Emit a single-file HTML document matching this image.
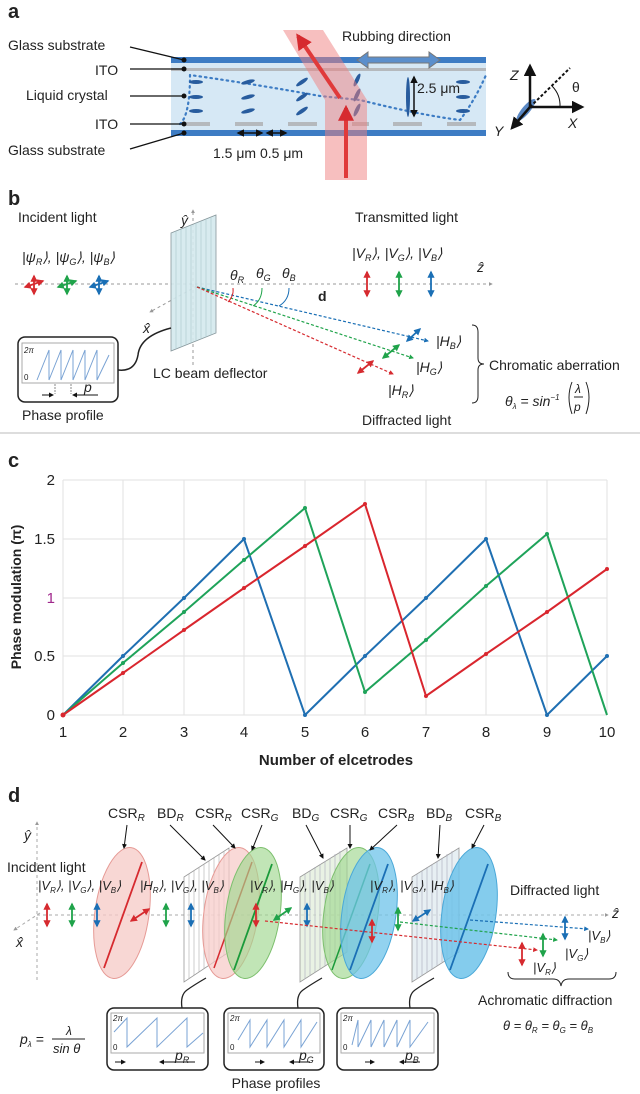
<!DOCTYPE html>
<html><head><meta charset="utf-8"><style>
html,body{margin:0;padding:0;background:#fff}
svg{display:block}
text{font-family:"Liberation Sans",sans-serif;fill:#222}
.l{font-size:14px}
.b{font-weight:bold}
.i{font-style:italic}
</style></head><body>
<svg width="640" height="1094" viewBox="0 0 640 1094" xmlns="http://www.w3.org/2000/svg">
<defs>
<marker id="ak" viewBox="0 0 10 10" refX="8" refY="5" markerWidth="5" markerHeight="5" orient="auto-start-reverse"><path d="M0,0L10,5L0,10z" fill="#111"/></marker>
<marker id="ar" viewBox="0 0 10 10" refX="8" refY="5" markerWidth="4" markerHeight="4" orient="auto-start-reverse"><path d="M0,0L10,5L0,10z" fill="#d62a2f"/></marker>
<marker id="ag" viewBox="0 0 10 10" refX="8" refY="5" markerWidth="4" markerHeight="4" orient="auto-start-reverse"><path d="M0,0L10,5L0,10z" fill="#1fa34a"/></marker>
<marker id="ab" viewBox="0 0 10 10" refX="8" refY="5" markerWidth="4" markerHeight="4" orient="auto-start-reverse"><path d="M0,0L10,5L0,10z" fill="#1a6fb5"/></marker>
<marker id="ay" viewBox="0 0 10 10" refX="8" refY="5" markerWidth="4" markerHeight="4" orient="auto"><path d="M0,0L10,5L0,10z" fill="#999"/></marker>
</defs>

<!-- Panel a -->
<text x="8" y="18" class="b" font-size="20">a</text>
<rect x="171" y="60" width="315" height="73" fill="#d6e8f5"/>
<rect x="171" y="57" width="315" height="6" fill="#3d7cc4"/>
<rect x="171" y="68" width="315" height="3" fill="#b5b9bd"/>
<rect x="171" y="130" width="315" height="6" fill="#3d7cc4"/>
<g fill="#b5b9bd"><rect x="184" y="122" width="26" height="4"/><rect x="235" y="122" width="28" height="4"/><rect x="288" y="122" width="29" height="4"/><rect x="352" y="122" width="17" height="4"/><rect x="393" y="122" width="29" height="4"/><rect x="447" y="122" width="29" height="4"/></g>
<path d="M180,124 Q190,115 190,75 Q260,85 320,96 L360,100 Q420,115 460,120 Q475,100 486,75" fill="none" stroke="#3d7cc4" stroke-width="2.2" stroke-dasharray="1.5,4" stroke-linecap="round"/>
<g fill="#285c9e">
<ellipse cx="196" cy="82" rx="7" ry="2"/><ellipse cx="196" cy="97" rx="7" ry="2"/><ellipse cx="196" cy="111" rx="7" ry="2"/>
<ellipse cx="248" cy="82" rx="7" ry="2" transform="rotate(-15 248 82)"/><ellipse cx="248" cy="97" rx="7" ry="2" transform="rotate(-15 248 97)"/><ellipse cx="248" cy="111" rx="7" ry="2" transform="rotate(-15 248 111)"/>
<ellipse cx="302" cy="82" rx="7" ry="2" transform="rotate(-35 302 82)"/><ellipse cx="302" cy="97" rx="7" ry="2" transform="rotate(-35 302 97)"/><ellipse cx="302" cy="111" rx="7" ry="2" transform="rotate(-35 302 111)"/>
<ellipse cx="357" cy="80" rx="7" ry="2" transform="rotate(-65 357 80)"/><ellipse cx="357" cy="95" rx="7" ry="2" transform="rotate(-65 357 95)"/><ellipse cx="357" cy="110" rx="7" ry="2" transform="rotate(-65 357 110)"/>
<ellipse cx="408" cy="97" rx="2" ry="20"/>
<ellipse cx="463" cy="82" rx="7" ry="2"/><ellipse cx="463" cy="97" rx="7" ry="2"/><ellipse cx="463" cy="111" rx="7" ry="2"/>
</g>
<polygon points="283,30 323,30 367,100 367,180 325,180 325,100" fill="#f08080" opacity="0.5"/>
<line x1="346" y1="178" x2="346" y2="108" stroke="#e03a3a" stroke-width="4" marker-end="url(#ar)"/>
<line x1="340" y1="98" x2="298" y2="36" stroke="#e03a3a" stroke-width="4" marker-end="url(#ar)"/>
<text x="342" y="41" class="l">Rubbing direction</text>
<polygon points="357,60 368,52 368,57 429,57 429,52 440,60 429,68 429,63 368,63 368,68" fill="#5b8fcc" stroke="#777" stroke-width="1"/>
<line x1="414" y1="77" x2="414" y2="116" stroke="#111" stroke-width="1.5" marker-start="url(#ak)" marker-end="url(#ak)"/>
<text x="417" y="93" class="l">2.5 μm</text>
<line x1="238" y1="133" x2="262" y2="133" stroke="#111" stroke-width="1.5" marker-start="url(#ak)" marker-end="url(#ak)"/>
<line x1="267" y1="133" x2="286" y2="133" stroke="#111" stroke-width="1.5" marker-start="url(#ak)" marker-end="url(#ak)"/>
<text x="213" y="158" class="l">1.5 μm 0.5 μm</text>
<g class="l"><text x="8" y="50">Glass substrate</text><text x="95" y="75">ITO</text><text x="26" y="100">Liquid crystal</text><text x="95" y="129">ITO</text><text x="8" y="155">Glass substrate</text></g>
<g stroke="#111" stroke-width="1.3"><line x1="130" y1="47" x2="184" y2="60"/><line x1="130" y1="69" x2="184" y2="69"/><line x1="130" y1="96" x2="184" y2="96"/><line x1="130" y1="124" x2="184" y2="124"/><line x1="130" y1="149" x2="184" y2="133"/></g>
<g fill="#111"><circle cx="184" cy="60" r="2.5"/><circle cx="184" cy="69" r="2.5"/><circle cx="184" cy="96" r="2.5"/><circle cx="184" cy="124" r="2.5"/><circle cx="184" cy="133" r="2.5"/></g>
<ellipse cx="526" cy="110" rx="14" ry="4" fill="#5a88c4" transform="rotate(-50 526 110)"/>
<line x1="530" y1="108" x2="530" y2="66" stroke="#111" stroke-width="2.5" marker-end="url(#ak)"/>
<line x1="530" y1="107" x2="582" y2="107" stroke="#111" stroke-width="2.5" marker-end="url(#ak)"/>
<line x1="530" y1="107" x2="512" y2="128" stroke="#111" stroke-width="2.5" marker-end="url(#ak)"/>
<line x1="530" y1="107" x2="570" y2="68" stroke="#111" stroke-width="2" stroke-dasharray="3,2"/>
<path d="M552,86 A28,28 0 0 1 560,107" fill="none" stroke="#111"/>
<text x="510" y="80" class="l i">Z</text><text x="572" y="92" class="l">θ</text><text x="568" y="128" class="l i">X</text><text x="494" y="136" class="l i">Y</text>

<!-- Panel b -->
<text x="8" y="205" class="b" font-size="20">b</text>
<text x="18" y="222" class="l">Incident light</text>
<text x="355" y="222" class="l">Transmitted light</text>
<text x="22" y="262" class="l i" font-size="13">|ψ<tspan font-size="9" dy="3">R</tspan><tspan dy="-3">⟩, |ψ</tspan><tspan font-size="9" dy="3">G</tspan><tspan dy="-3">⟩, |ψ</tspan><tspan font-size="9" dy="3">B</tspan><tspan dy="-3">⟩</tspan></text>
<text x="352" y="258" class="l i" font-size="13">|V<tspan font-size="9" dy="3">R</tspan><tspan dy="-3">⟩, |V</tspan><tspan font-size="9" dy="3">G</tspan><tspan dy="-3">⟩, |V</tspan><tspan font-size="9" dy="3">B</tspan><tspan dy="-3">⟩</tspan></text>
<line x1="15" y1="284" x2="492" y2="284" stroke="#999" stroke-dasharray="3,3" marker-end="url(#ay)"/>
<text x="477" y="272" class="l i">ẑ</text>
<line x1="193" y1="365" x2="193" y2="210" stroke="#999" stroke-dasharray="3,3" marker-end="url(#ay)"/>
<text x="181" y="225" class="l i">ŷ</text>
<line x1="197" y1="286" x2="150" y2="312" stroke="#999" stroke-dasharray="3,3" marker-end="url(#ay)"/>
<text x="143" y="333" class="l i">x̂</text>
<polygon points="171,233 216,215 216,333 171,351" fill="#d4e9ee" stroke="#7a8b90" stroke-width="0.8" opacity="0.9"/>
<g stroke="#a8c6cc" stroke-width="0.6"><line x1="176" y1="231" x2="176" y2="349"/><line x1="181" y1="229" x2="181" y2="347"/><line x1="186" y1="227" x2="186" y2="345"/><line x1="191" y1="225" x2="191" y2="343"/><line x1="196" y1="223" x2="196" y2="341"/><line x1="201" y1="221" x2="201" y2="339"/><line x1="206" y1="219" x2="206" y2="337"/><line x1="211" y1="217" x2="211" y2="335"/></g>
<line x1="197" y1="287" x2="428" y2="341" stroke="#1a6fb5" stroke-width="1.2" stroke-dasharray="3,2" marker-end="url(#ab)"/>
<line x1="197" y1="287" x2="413" y2="358" stroke="#1fa34a" stroke-width="1.2" stroke-dasharray="3,2" marker-end="url(#ag)"/>
<line x1="197" y1="287" x2="393" y2="374" stroke="#d62a2f" stroke-width="1.2" stroke-dasharray="3,2" marker-end="url(#ar)"/>
<path d="M233,288 Q234,296 228,302" fill="none" stroke="#d62a2f"/>
<path d="M262,288 Q262,300 253,306" fill="none" stroke="#1fa34a"/>
<path d="M289,288 Q289,300 279,306" fill="none" stroke="#1a6fb5"/>
<text x="230" y="280" class="l i" font-size="13">θ<tspan font-size="9" dy="3">R</tspan></text>
<text x="256" y="278" class="l i" font-size="13">θ<tspan font-size="9" dy="3">G</tspan></text>
<text x="282" y="278" class="l i" font-size="13">θ<tspan font-size="9" dy="3">B</tspan></text>
<text x="318" y="301" class="b" font-size="14">d</text>
<g stroke-width="1.8">
<line x1="34" y1="276" x2="34" y2="294" stroke="#d62a2f" marker-start="url(#ar)" marker-end="url(#ar)"/><line x1="25" y1="287" x2="43" y2="281" stroke="#d62a2f" marker-start="url(#ar)" marker-end="url(#ar)"/>
<line x1="67" y1="276" x2="67" y2="294" stroke="#1fa34a" marker-start="url(#ag)" marker-end="url(#ag)"/><line x1="58" y1="287" x2="76" y2="281" stroke="#1fa34a" marker-start="url(#ag)" marker-end="url(#ag)"/>
<line x1="99" y1="276" x2="99" y2="294" stroke="#1a6fb5" marker-start="url(#ab)" marker-end="url(#ab)"/><line x1="90" y1="287" x2="108" y2="281" stroke="#1a6fb5" marker-start="url(#ab)" marker-end="url(#ab)"/>
<line x1="367" y1="272" x2="367" y2="296" stroke="#d62a2f" marker-start="url(#ar)" marker-end="url(#ar)"/>
<line x1="399" y1="272" x2="399" y2="296" stroke="#1fa34a" marker-start="url(#ag)" marker-end="url(#ag)"/>
<line x1="431" y1="272" x2="431" y2="296" stroke="#1a6fb5" marker-start="url(#ab)" marker-end="url(#ab)"/>
<line x1="407" y1="341" x2="420" y2="329" stroke="#1a6fb5" marker-start="url(#ab)" marker-end="url(#ab)"/>
<line x1="383" y1="358" x2="399" y2="345" stroke="#1fa34a" marker-start="url(#ag)" marker-end="url(#ag)"/>
<line x1="358" y1="373" x2="373" y2="361" stroke="#d62a2f" marker-start="url(#ar)" marker-end="url(#ar)"/>
</g>
<g class="l i" font-size="13"><text x="436" y="346">|H<tspan font-size="9" dy="3">B</tspan><tspan dy="-3">⟩</tspan></text><text x="416" y="372">|H<tspan font-size="9" dy="3">G</tspan><tspan dy="-3">⟩</tspan></text><text x="388" y="395">|H<tspan font-size="9" dy="3">R</tspan><tspan dy="-3">⟩</tspan></text></g>
<path d="M472,325 Q478,325 478,332 L478,358 Q478,364 484,364 Q478,364 478,370 L478,396 Q478,403 472,403" fill="none" stroke="#222" stroke-width="1"/>
<text x="489" y="370" class="l">Chromatic aberration</text>
<text x="505" y="406" class="l i" font-size="13">θ<tspan font-size="8" dy="3">λ</tspan><tspan dy="-3"> = sin</tspan><tspan font-size="8" dy="-6">−1</tspan></text>
<text x="575" y="393" class="i" font-size="12">λ</text><line x1="574" y1="397" x2="583" y2="397" stroke="#222"/><text x="574" y="411" class="i" font-size="12">p</text>
<path d="M572,382 Q566,397 572,414 M586,382 Q592,397 586,414" fill="none" stroke="#222"/>
<text x="362" y="425" class="l">Diffracted light</text>
<rect x="18" y="337" width="100" height="65" rx="7" fill="#fff" stroke="#222" stroke-width="1.5"/>
<rect x="22" y="343" width="92" height="40" fill="none" stroke="#aaa"/>
<path d="M37,380 L49,350 L49,380 L61,350 L61,380 L73,350 L73,380 L85,350 L85,380 L97,350 L97,380 L109,355" fill="none" stroke="#7aa3d4"/>
<text x="24" y="353" font-size="8" class="i">2π</text><text x="24" y="380" font-size="8">0</text>
<line x1="55" y1="384" x2="55" y2="394" stroke="#888" stroke-dasharray="2,1"/><line x1="71" y1="384" x2="71" y2="394" stroke="#888" stroke-dasharray="2,1"/>
<line x1="42" y1="395" x2="53" y2="395" stroke="#111" marker-end="url(#ak)"/><line x1="98" y1="395" x2="73" y2="395" stroke="#111" marker-end="url(#ak)"/>
<text x="84" y="392" class="l i">p</text>
<path d="M118,370 Q135,372 138,355 Q140,336 171,328" fill="none" stroke="#222" stroke-width="1.5"/>
<text x="22" y="420" class="l">Phase profile</text>
<text x="153" y="378" class="l">LC beam deflector</text>
<line x1="0" y1="433" x2="640" y2="433" stroke="#bbb" stroke-width="1"/>

<!-- Panel c -->
<text x="8" y="467" class="b" font-size="20">c</text>
<g stroke="#e2e2e2" stroke-width="1">
<line x1="63" y1="480" x2="607" y2="480"/><line x1="63" y1="539" x2="607" y2="539"/><line x1="63" y1="598" x2="607" y2="598"/><line x1="63" y1="656" x2="607" y2="656"/><line x1="63" y1="715" x2="607" y2="715"/>
<line x1="63" y1="480" x2="63" y2="715"/><line x1="123" y1="480" x2="123" y2="715"/><line x1="184" y1="480" x2="184" y2="715"/><line x1="244" y1="480" x2="244" y2="715"/><line x1="305" y1="480" x2="305" y2="715"/><line x1="365" y1="480" x2="365" y2="715"/><line x1="426" y1="480" x2="426" y2="715"/><line x1="486" y1="480" x2="486" y2="715"/><line x1="547" y1="480" x2="547" y2="715"/><line x1="607" y1="480" x2="607" y2="715"/>
</g>
<g font-size="15" text-anchor="end"><text x="55" y="485">2</text><text x="55" y="544">1.5</text><text x="55" y="603" style="fill:#a0288c">1</text><text x="55" y="661">0.5</text><text x="55" y="720">0</text></g>
<g font-size="15" text-anchor="middle"><text x="63" y="737">1</text><text x="123" y="737">2</text><text x="184" y="737">3</text><text x="244" y="737">4</text><text x="305" y="737">5</text><text x="365" y="737">6</text><text x="426" y="737">7</text><text x="486" y="737">8</text><text x="547" y="737">9</text><text x="607" y="737">10</text></g>
<text x="336" y="765" text-anchor="middle" class="b" font-size="15">Number of elcetrodes</text>
<text transform="translate(21,597) rotate(-90)" text-anchor="middle" class="b" font-size="14">Phase modulation (π)</text>
<polyline points="63,715 123,656 184,598 244,539 305,715 365,656 426,598 486,539 547,715 607,656" fill="none" stroke="#1f6fb2" stroke-width="2"/>
<polyline points="63,715 123,663 184,612 244,560 305,508 365,692 426,640 486,586 547,534 607,715" fill="none" stroke="#1fa35a" stroke-width="2"/>
<polyline points="63,715 123,673 184,630 244,588 305,546 365,504 426,696 426,696 486,654 547,612 607,569" fill="none" stroke="#d9262e" stroke-width="2"/>
<g fill="#1f6fb2"><circle cx="123" cy="656" r="2"/><circle cx="184" cy="598" r="2"/><circle cx="244" cy="539" r="2"/><circle cx="305" cy="715" r="2"/><circle cx="365" cy="656" r="2"/><circle cx="426" cy="598" r="2"/><circle cx="486" cy="539" r="2"/><circle cx="547" cy="715" r="2"/><circle cx="607" cy="656" r="2"/></g>
<g fill="#1fa35a"><circle cx="123" cy="663" r="2"/><circle cx="184" cy="612" r="2"/><circle cx="244" cy="560" r="2"/><circle cx="305" cy="508" r="2"/><circle cx="365" cy="692" r="2"/><circle cx="426" cy="640" r="2"/><circle cx="486" cy="586" r="2"/><circle cx="547" cy="534" r="2"/></g>
<g fill="#d9262e"><circle cx="63" cy="715" r="2.5"/><circle cx="123" cy="673" r="2"/><circle cx="184" cy="630" r="2"/><circle cx="244" cy="588" r="2"/><circle cx="305" cy="546" r="2"/><circle cx="365" cy="504" r="2"/><circle cx="426" cy="696" r="2"/><circle cx="486" cy="654" r="2"/><circle cx="547" cy="612" r="2"/><circle cx="607" cy="569" r="2"/></g>

<!-- Panel d -->
<text x="8" y="802" class="b" font-size="20">d</text>
<g font-size="14"><text x="108" y="818">CSR<tspan class="i" font-size="10" dy="3">R</tspan></text><text x="157" y="818">BD<tspan class="i" font-size="10" dy="3">R</tspan></text><text x="195" y="818">CSR<tspan class="i" font-size="10" dy="3">R</tspan></text><text x="241" y="818">CSR<tspan class="i" font-size="10" dy="3">G</tspan></text><text x="292" y="818">BD<tspan class="i" font-size="10" dy="3">G</tspan></text><text x="330" y="818">CSR<tspan class="i" font-size="10" dy="3">G</tspan></text><text x="378" y="818">CSR<tspan class="i" font-size="10" dy="3">B</tspan></text><text x="426" y="818">BD<tspan class="i" font-size="10" dy="3">B</tspan></text><text x="465" y="818">CSR<tspan class="i" font-size="10" dy="3">B</tspan></text></g>
<line x1="37" y1="980" x2="37" y2="822" stroke="#aaa" stroke-dasharray="3,3" marker-end="url(#ay)"/>
<text x="24" y="840" class="l i">ŷ</text>
<line x1="40" y1="913" x2="14" y2="930" stroke="#aaa" stroke-dasharray="3,3" marker-end="url(#ay)"/>
<text x="16" y="947" class="l i">x̂</text>
<line x1="37" y1="915" x2="608" y2="915" stroke="#aaa" stroke-dasharray="3,3" marker-end="url(#ay)"/>
<text x="612" y="918" class="l i">ẑ</text>
<text x="7" y="872" class="l">Incident light</text>
<ellipse cx="122" cy="913" rx="27" ry="66" transform="rotate(8 122 913)" fill="#f6c9c6" fill-opacity="0.75" stroke="#e69a95"/>
<line x1="104" y1="968" x2="142" y2="862" stroke="#d62a2f" stroke-width="1.8"/>
<polygon points="184,877 229,848 229,952 184,982" fill="#fff" fill-opacity="0.6" stroke="#999" stroke-width="0.8"/>
<g stroke="#aaa" stroke-width="0.6"><line x1="189" y1="874" x2="189" y2="979"/><line x1="194" y1="871" x2="194" y2="975"/><line x1="199" y1="867" x2="199" y2="972"/><line x1="204" y1="864" x2="204" y2="969"/><line x1="209" y1="861" x2="209" y2="966"/><line x1="214" y1="858" x2="214" y2="962"/><line x1="219" y1="854" x2="219" y2="959"/><line x1="224" y1="851" x2="224" y2="955"/></g>
<ellipse cx="231" cy="913" rx="27" ry="66" transform="rotate(8 231 913)" fill="#f6c9c6" fill-opacity="0.7" stroke="#e69a95"/>
<line x1="214" y1="968" x2="252" y2="862" stroke="#d62a2f" stroke-width="1.5"/>
<ellipse cx="253" cy="913" rx="27" ry="66" transform="rotate(8 253 913)" fill="#9fd78f" fill-opacity="0.65" stroke="#7cbf6d"/>
<line x1="234" y1="970" x2="272" y2="864" stroke="#1a9a3a" stroke-width="1.8"/>
<polygon points="300,877 347,848 347,952 300,982" fill="#e0ecd8" fill-opacity="0.7" stroke="#999" stroke-width="0.8"/>
<g stroke="#aab" stroke-width="0.6"><line x1="305" y1="874" x2="305" y2="979"/><line x1="310" y1="871" x2="310" y2="975"/><line x1="315" y1="867" x2="315" y2="972"/><line x1="320" y1="864" x2="320" y2="969"/><line x1="325" y1="861" x2="325" y2="966"/><line x1="330" y1="858" x2="330" y2="962"/><line x1="335" y1="854" x2="335" y2="959"/><line x1="340" y1="851" x2="340" y2="955"/></g>
<ellipse cx="351" cy="913" rx="27" ry="66" transform="rotate(8 351 913)" fill="#9fd78f" fill-opacity="0.65" stroke="#7cbf6d"/>
<line x1="332" y1="970" x2="370" y2="864" stroke="#1a9a3a" stroke-width="1.5"/>
<ellipse cx="369" cy="913" rx="27" ry="66" transform="rotate(8 369 913)" fill="#6ec3ea" fill-opacity="0.75" stroke="#4aa8d8"/>
<line x1="350" y1="970" x2="388" y2="864" stroke="#1a6fb5" stroke-width="1.8"/>
<polygon points="412,877 459,848 459,952 412,982" fill="#dde8ee" fill-opacity="0.7" stroke="#999" stroke-width="0.8"/>
<g stroke="#aab" stroke-width="0.6"><line x1="417" y1="874" x2="417" y2="979"/><line x1="422" y1="871" x2="422" y2="975"/><line x1="427" y1="867" x2="427" y2="972"/><line x1="432" y1="864" x2="432" y2="969"/><line x1="437" y1="861" x2="437" y2="966"/><line x1="442" y1="858" x2="442" y2="962"/><line x1="447" y1="854" x2="447" y2="959"/><line x1="452" y1="851" x2="452" y2="955"/></g>
<ellipse cx="469" cy="913" rx="27" ry="66" transform="rotate(8 469 913)" fill="#6ec3ea" fill-opacity="0.85" stroke="#4aa8d8"/>
<line x1="450" y1="970" x2="488" y2="864" stroke="#1a6fb5" stroke-width="1.8"/>
<g stroke="#111" stroke-width="1"><line x1="127" y1="825" x2="124" y2="848" marker-end="url(#ak)"/><line x1="170" y1="825" x2="205" y2="860" marker-end="url(#ak)"/><line x1="213" y1="825" x2="235" y2="848" marker-end="url(#ak)"/><line x1="262" y1="825" x2="252" y2="850" marker-end="url(#ak)"/><line x1="306" y1="825" x2="323" y2="858" marker-end="url(#ak)"/><line x1="350" y1="825" x2="350" y2="848" marker-end="url(#ak)"/><line x1="397" y1="825" x2="370" y2="850" marker-end="url(#ak)"/><line x1="440" y1="825" x2="438" y2="858" marker-end="url(#ak)"/><line x1="484" y1="825" x2="472" y2="848" marker-end="url(#ak)"/></g>
<g class="i" font-size="13"><text x="38" y="890">|V<tspan font-size="8" dy="3">R</tspan><tspan dy="-3">⟩, |V</tspan><tspan font-size="8" dy="3">G</tspan><tspan dy="-3">⟩, |V</tspan><tspan font-size="8" dy="3">B</tspan><tspan dy="-3">⟩</tspan></text>
<text x="140" y="890">|H<tspan font-size="8" dy="3">R</tspan><tspan dy="-3">⟩, |V</tspan><tspan font-size="8" dy="3">G</tspan><tspan dy="-3">⟩, |V</tspan><tspan font-size="8" dy="3">B</tspan><tspan dy="-3">⟩</tspan></text>
<text x="250" y="890">|V<tspan font-size="8" dy="3">R</tspan><tspan dy="-3">⟩, |H</tspan><tspan font-size="8" dy="3">G</tspan><tspan dy="-3">⟩, |V</tspan><tspan font-size="8" dy="3">B</tspan><tspan dy="-3">⟩</tspan></text>
<text x="370" y="890">|V<tspan font-size="8" dy="3">R</tspan><tspan dy="-3">⟩, |V</tspan><tspan font-size="8" dy="3">G</tspan><tspan dy="-3">⟩, |H</tspan><tspan font-size="8" dy="3">B</tspan><tspan dy="-3">⟩</tspan></text></g>
<text x="510" y="895" class="l">Diffracted light</text>
<g stroke-width="1.8">
<line x1="47" y1="904" x2="47" y2="926" stroke="#d62a2f" marker-start="url(#ar)" marker-end="url(#ar)"/>
<line x1="72" y1="904" x2="72" y2="926" stroke="#1fa34a" marker-start="url(#ag)" marker-end="url(#ag)"/>
<line x1="97" y1="904" x2="97" y2="926" stroke="#1a6fb5" marker-start="url(#ab)" marker-end="url(#ab)"/>
<line x1="131" y1="921" x2="149" y2="909" stroke="#d62a2f" marker-start="url(#ar)" marker-end="url(#ar)"/>
<line x1="166" y1="904" x2="166" y2="926" stroke="#1fa34a" marker-start="url(#ag)" marker-end="url(#ag)"/>
<line x1="191" y1="904" x2="191" y2="926" stroke="#1a6fb5" marker-start="url(#ab)" marker-end="url(#ab)"/>
<line x1="256" y1="904" x2="256" y2="926" stroke="#d62a2f" marker-start="url(#ar)" marker-end="url(#ar)"/>
<line x1="274" y1="920" x2="291" y2="908" stroke="#1fa34a" marker-start="url(#ag)" marker-end="url(#ag)"/>
<line x1="307" y1="904" x2="307" y2="926" stroke="#1a6fb5" marker-start="url(#ab)" marker-end="url(#ab)"/>
<line x1="372" y1="920" x2="372" y2="942" stroke="#d62a2f" marker-start="url(#ar)" marker-end="url(#ar)"/>
<line x1="398" y1="908" x2="398" y2="930" stroke="#1fa34a" marker-start="url(#ag)" marker-end="url(#ag)"/>
<line x1="413" y1="921" x2="430" y2="910" stroke="#1a6fb5" marker-start="url(#ab)" marker-end="url(#ab)"/>
<line x1="522" y1="943" x2="522" y2="965" stroke="#d62a2f" marker-start="url(#ar)" marker-end="url(#ar)"/>
<line x1="543" y1="934" x2="543" y2="956" stroke="#1fa34a" marker-start="url(#ag)" marker-end="url(#ag)"/>
<line x1="565" y1="917" x2="565" y2="939" stroke="#1a6fb5" marker-start="url(#ab)" marker-end="url(#ab)"/>
</g>
<line x1="265" y1="921" x2="537" y2="950" stroke="#d62a2f" stroke-width="1.2" stroke-dasharray="3,2" marker-end="url(#ar)"/>
<line x1="400" y1="922" x2="557" y2="940" stroke="#1fa34a" stroke-width="1.2" stroke-dasharray="3,2" marker-end="url(#ag)"/>
<line x1="470" y1="920" x2="588" y2="929" stroke="#1a6fb5" stroke-width="1.2" stroke-dasharray="3,2" marker-end="url(#ab)"/>
<g class="i" font-size="13"><text x="588" y="940">|V<tspan font-size="8" dy="3">B</tspan><tspan dy="-3">⟩</tspan></text><text x="565" y="958">|V<tspan font-size="8" dy="3">G</tspan><tspan dy="-3">⟩</tspan></text><text x="533" y="972">|V<tspan font-size="8" dy="3">R</tspan><tspan dy="-3">⟩</tspan></text></g>
<path d="M508,972 Q508,979 515,979 L553,979 Q560,979 561,986 Q562,979 569,979 L609,979 Q616,979 616,972" fill="none" stroke="#222"/>
<text x="478" y="1005" class="l">Achromatic diffraction</text>
<text x="503" y="1030" class="i" font-size="13">θ = θ<tspan font-size="8" dy="3">R</tspan><tspan dy="-3"> = θ</tspan><tspan font-size="8" dy="3">G</tspan><tspan dy="-3"> = θ</tspan><tspan font-size="8" dy="3">B</tspan></text>
<text x="20" y="1044" class="i" font-size="14">p<tspan font-size="8" dy="3">λ</tspan><tspan dy="-3"> =</tspan></text>
<text x="66" y="1035" class="i" font-size="12">λ</text><line x1="52" y1="1039" x2="85" y2="1039" stroke="#222"/><text x="53" y="1053" class="i" font-size="13">sin θ</text>
<g fill="#fff" stroke="#222" stroke-width="1.5"><rect x="107" y="1008" width="101" height="62" rx="7"/><rect x="224" y="1008" width="100" height="62" rx="7"/><rect x="337" y="1008" width="101" height="62" rx="7"/></g>
<g fill="none" stroke="#aaa"><rect x="111" y="1013" width="93" height="40"/><rect x="228" y="1013" width="92" height="40"/><rect x="341" y="1013" width="93" height="40"/></g>
<g fill="none" stroke="#7aa3d4"><path d="M114,1032 L127,1018 L127,1047 L157,1018 L157,1047 L187,1018 L187,1047 L203,1033"/><path d="M238,1040 L250,1020 L250,1047 L267,1020 L267,1047 L284,1020 L284,1047 L301,1020 L301,1047 L317,1022"/><path d="M352,1045 L358,1020 L358,1047 L371,1020 L371,1047 L384,1020 L384,1047 L397,1020 L397,1047 L410,1020 L410,1047 L428,1022"/></g>
<g font-size="8"><text x="113" y="1021" class="i">2π</text><text x="113" y="1050">0</text><text x="230" y="1021" class="i">2π</text><text x="230" y="1050">0</text><text x="343" y="1021" class="i">2π</text><text x="343" y="1050">0</text></g>
<g stroke="#111"><line x1="115" y1="1062" x2="125" y2="1062" marker-end="url(#ak)"/><line x1="195" y1="1062" x2="160" y2="1062" marker-end="url(#ak)"/><line x1="255" y1="1062" x2="264" y2="1062" marker-end="url(#ak)"/><line x1="310" y1="1062" x2="290" y2="1062" marker-end="url(#ak)"/><line x1="365" y1="1062" x2="374" y2="1062" marker-end="url(#ak)"/><line x1="420" y1="1062" x2="400" y2="1062" marker-end="url(#ak)"/></g>
<g class="i" font-size="14"><text x="175" y="1060">p<tspan font-size="9" dy="3">R</tspan></text><text x="299" y="1060">p<tspan font-size="9" dy="3">G</tspan></text><text x="405" y="1060">p<tspan font-size="9" dy="3">B</tspan></text></g>
<g fill="none" stroke="#222" stroke-width="1.3"><path d="M182,1008 Q180,995 187,990 Q194,985 206,978"/><path d="M298,1008 Q296,995 303,990 Q310,985 322,978"/><path d="M410,1008 Q408,995 415,990 Q422,985 434,978"/></g>
<text x="276" y="1088" text-anchor="middle" class="l">Phase profiles</text>
</svg>
</body></html>
